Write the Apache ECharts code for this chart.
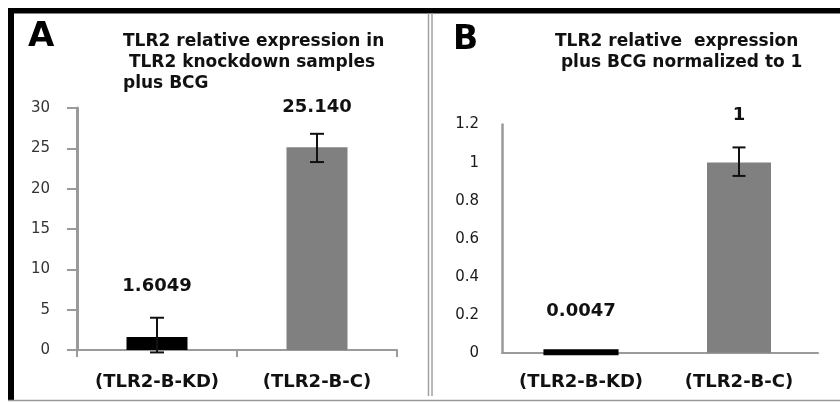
<!DOCTYPE html>
<html><head><meta charset="utf-8">
<script src="https://cdn.jsdelivr.net/npm/echarts@6/dist/echarts.min.js"></script>
<style>html,body{margin:0;padding:0;background:#fff}#c{width:840px;height:402px}</style>
</head><body><div id="c"></div>
<script>
// ---- data ----
const categories = ['(TLR2-B-KD)', '(TLR2-B-C)'];
const valuesA = [1.6049, 25.14];
const labelsA = ['1.6049', '25.140'];
const errLowA = [-0.3, 23.3];
const errHighA = [4.0, 26.8];
const valuesB = [0.0047, 1];
const labelsB = ['0.0047', '1'];
const errLowB = [null, 0.93];
const errHighB = [null, 1.08];
const yTicksA = [0, 30, 5];     // min, max, interval
const yTicksB = [0, 1.2, 0.2];
const titleA = 'TLR2 relative expression in\n TLR2 knockdown samples\nplus BCG';
const titleB = 'TLR2 relative  expression\n plus BCG normalized to 1';

// ---- styles ----
const AXIS_GRAY = '#9a9a9a';
const BAR_COLORS = ['#000000', '#808080'];
const boldFont = 'DejaVu Sans';

function errData(lo, hi) {
  const out = [];
  lo.forEach((l, i) => { if (l != null && hi[i] != null) out.push([i, l, hi[i]]); });
  return out;
}
function errRender(capHalf) {
  return function (params, api) {
    const x = api.value(0);
    const a = api.coord([x, api.value(1)]);
    const b = api.coord([x, api.value(2)]);
    const st = { stroke: '#111', lineWidth: 2 };
    return { type: 'group', children: [
      { type: 'line', shape: { x1: a[0], y1: a[1], x2: b[0], y2: b[1] }, style: st },
      { type: 'line', shape: { x1: a[0] - capHalf, y1: a[1], x2: a[0] + capHalf, y2: a[1] }, style: st },
      { type: 'line', shape: { x1: b[0] - capHalf, y1: b[1], x2: b[0] + capHalf, y2: b[1] }, style: st }
    ]};
  };
}
const labelDistA = [42, 31];
const labelDistB = [29, 38];
const valueLabel = { show: true, position: 'top', color: '#111', fontFamily: boldFont, fontWeight: 'bold', fontSize: 18 };
const tickLabel = { color: '#333', fontFamily: 'DejaVu Sans', fontSize: 15 };
const catLabel = { color: '#111', fontFamily: boldFont, fontWeight: 'bold', fontSize: 18 };

const chart = echarts.init(document.getElementById('c'), null, { renderer: 'canvas' });
chart.setOption({
  animation: false,
  backgroundColor: '#fff',
  title: [
    { text: 'A', left: 28, top: 20, padding: 0, textStyle: { fontFamily: boldFont, fontWeight: 'bold', fontSize: 34, color: '#000' } },
    { text: 'B', left: 453, top: 24, padding: 0, textStyle: { fontFamily: boldFont, fontWeight: 'bold', fontSize: 33, color: '#000' } },
    { text: titleA, left: 123, top: 31, padding: 0, textStyle: { fontFamily: boldFont, fontWeight: 'bold', fontSize: 17, lineHeight: 21, color: '#111' } },
    { text: titleB, left: 555, top: 31, padding: 0, textStyle: { fontFamily: boldFont, fontWeight: 'bold', fontSize: 17, lineHeight: 21, color: '#111' } }
  ],
  grid: [
    { left: 77, top: 108, width: 320, height: 242 },
    { left: 502, top: 124.6, width: 316, height: 228.1 }
  ],
  xAxis: [
    { type: 'category', gridIndex: 0, data: categories,
      axisLine: { lineStyle: { color: AXIS_GRAY, width: 2 } },
      axisTick: { show: true, alignWithLabel: false, length: 7, lineStyle: { color: AXIS_GRAY, width: 2 } },
      axisLabel: Object.assign({ margin: 23, interval: 0 }, catLabel) },
    { type: 'category', gridIndex: 1, data: categories,
      axisLine: { lineStyle: { color: AXIS_GRAY, width: 2 } },
      axisTick: { show: false },
      axisLabel: Object.assign({ margin: 21, interval: 0 }, catLabel) },
    { type: 'category', gridIndex: 1, data: categories, show: false }
  ],
  yAxis: [
    { type: 'value', gridIndex: 0, min: yTicksA[0], max: yTicksA[1], interval: yTicksA[2],
      axisLine: { show: true, lineStyle: { color: AXIS_GRAY, width: 3 } },
      axisTick: { show: true, length: 10, lineStyle: { color: AXIS_GRAY, width: 2 } },
      splitLine: { show: false },
      axisLabel: Object.assign({ margin: 27 }, tickLabel) },
    { type: 'value', gridIndex: 1, min: yTicksB[0], max: yTicksB[1], interval: yTicksB[2],
      axisLine: { show: true, lineStyle: { color: AXIS_GRAY, width: 2.5 } },
      axisTick: { show: false },
      splitLine: { show: false },
      axisLabel: Object.assign({ margin: 23 }, tickLabel, { color: '#1a1a1a' }) }
  ],
  series: [
    { type: 'bar', xAxisIndex: 0, yAxisIndex: 0, barWidth: 61,
      data: valuesA.map((v, i) => ({ value: v, itemStyle: { color: BAR_COLORS[i] },
        label: Object.assign({}, valueLabel, { distance: labelDistA[i], formatter: labelsA[i] }) })) },
    { type: 'custom', xAxisIndex: 0, yAxisIndex: 0, z: 5, renderItem: errRender(7),
      encode: { x: 0, y: [1, 2] }, data: errData(errLowA, errHighA) },
    { type: 'bar', xAxisIndex: 1, yAxisIndex: 1, barWidth: 76,
      data: valuesB.map((v, i) => i === 0 ? ({ value: v,
        itemStyle: { color: BAR_COLORS[0], borderColor: BAR_COLORS[0], borderWidth: 6 },
        label: Object.assign({}, valueLabel, { distance: labelDistB[0], formatter: labelsB[0] }) }) : '-') },
    { type: 'bar', xAxisIndex: 2, yAxisIndex: 1, barWidth: 64,
      data: valuesB.map((v, i) => i === 1 ? ({ value: v, itemStyle: { color: BAR_COLORS[1] },
        label: Object.assign({}, valueLabel, { distance: labelDistB[1], formatter: labelsB[1] }) }) : '-') },
    { type: 'custom', xAxisIndex: 1, yAxisIndex: 1, z: 5, renderItem: errRender(6.5),
      encode: { x: 0, y: [1, 2] }, data: errData(errLowB, errHighB) }
  ],
  graphic: [
    { type: 'rect', shape: { x: 8, y: 8, width: 832, height: 5.5 }, style: { fill: '#000' }, silent: true },
    { type: 'rect', shape: { x: 8, y: 8, width: 6, height: 393 }, style: { fill: '#000' }, silent: true },
    { type: 'line', shape: { x1: 8, y1: 400.5, x2: 840, y2: 400.5 }, style: { stroke: '#9a9a9a', lineWidth: 1.5 }, silent: true },
    { type: 'line', shape: { x1: 428.5, y1: 13, x2: 428.5, y2: 396 }, style: { stroke: '#a0a0a0', lineWidth: 1.5 }, silent: true },
    { type: 'line', shape: { x1: 432, y1: 13, x2: 432, y2: 396 }, style: { stroke: '#a0a0a0', lineWidth: 1.5 }, silent: true }
  ]
});
</script>
</body></html>
